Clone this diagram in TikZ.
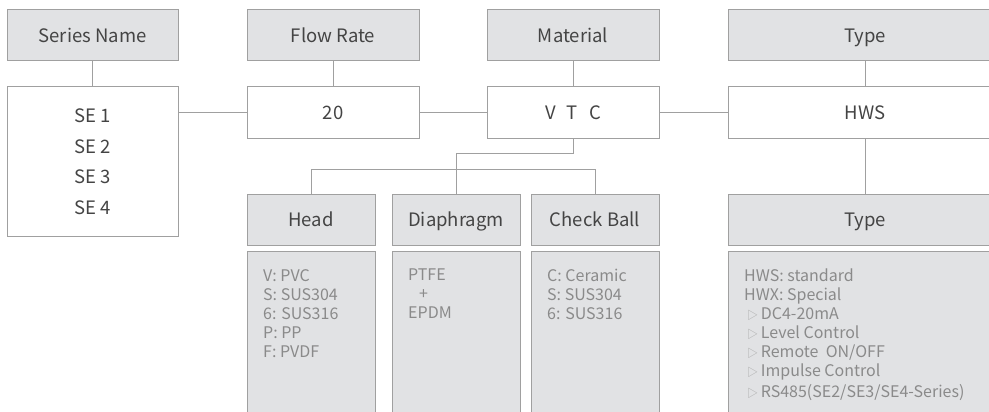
\documentclass[tikz,border=0pt]{standalone}
\usepackage{fontspec}
\setmainfont{Noto Sans CJK SC}
\definecolor{bfill}{HTML}{E1E2E4}
\definecolor{bline}{HTML}{A0A0A0}
\definecolor{htext}{HTML}{444444}
\definecolor{ctext}{HTML}{8A8A8A}
\definecolor{tri}{HTML}{AAAAAA}
\begin{document}
\begin{tikzpicture}[x=1pt,y=-1pt,
  box/.style={draw=bline, line width=1pt, fill=white, text=htext,
    font=\fontsize{18.5}{22}\selectfont, inner sep=0pt, minimum height=51pt,
    text height=13.5pt, text depth=0pt},
  hdr/.style={box, fill=bfill},
  cbox/.style={draw=bline, line width=1pt, fill=bfill, inner sep=0pt},
  ctxt/.style={anchor=north west, inner sep=0pt, align=left, text=ctext,
    font=\fontsize{16}{19}\selectfont},
  link/.style={draw=bline, line width=1pt}]
\clip (0,0) rectangle (989,412);
\fill[white] (0,0) rectangle (989,412);
% top headers
\node[hdr, minimum width=171pt] (sn) at (92.5,35.5) {Series Name};
\node[hdr, minimum width=172pt] (fr) at (333,35.5) {Flow Rate};
\node[hdr, minimum width=172pt] (mat) at (573,35.5) {Material};
\node[hdr, minimum width=274pt] (ty) at (865,35.5) {Type};
% value boxes
\node[box, minimum width=171pt, minimum height=149pt, align=center,
  text height=, text depth=,
  font=\fontsize{18.5}{30.5}\selectfont] (se) at (92.5,161.5) {SE 1\\SE 2\\SE 3\\SE 4};
\node[box, minimum width=172pt] (v20) at (333,112.5) {20};
\node[box, minimum width=172pt] (vtc) at (573,112.5) {V\hspace{0.6em}T\hspace{0.6em}C};
\node[box, minimum width=274pt] (hws) at (865,112.5) {HWS};
% second-level headers
\node[hdr, minimum width=128pt] (head) at (311,219.5) {Head};
\node[hdr, minimum width=128pt] (dia) at (456,219.5) {Diaphragm};
\node[hdr, minimum width=128pt] (cb) at (595,219.5) {Check Ball};
\node[hdr, minimum width=274pt] (ty2) at (865,219.5) {Type};
% content boxes
\node[cbox, minimum width=128pt, minimum height=179pt] (hc) at (311,340.5) {};
\node[cbox, minimum width=128pt, minimum height=179pt] (dc) at (456,340.5) {};
\node[cbox, minimum width=128pt, minimum height=179pt] (cc) at (595,340.5) {};
\node[cbox, minimum width=274pt, minimum height=179pt] (tc) at (865,340.5) {};
% content texts
\node[ctxt] (hct) at (263,269) {V: PVC\\S: SUS304\\6: SUS316\\P: PP\\F: PVDF};
\node[ctxt] (dct) at (408,269) {PTFE\\\hspace{11pt}+\\EPDM};
\node[ctxt] (cct) at (547,269) {C: Ceramic\\S: SUS304\\6: SUS316};
\node[ctxt] (tct) at (744,269) {HWS: standard\\HWX: Special\\
  \hspace{3pt}{\color{tri}\fontsize{11}{19}\selectfont▷}\,DC4-20mA\\
  \hspace{3pt}{\color{tri}\fontsize{11}{19}\selectfont▷}\,Level Control\\
  \hspace{3pt}{\color{tri}\fontsize{11}{19}\selectfont▷}\,Remote\ \ ON/OFF\\
  \hspace{3pt}{\color{tri}\fontsize{11}{19}\selectfont▷}\,Impulse Control\\[2pt]
  \hspace{3pt}{\color{tri}\fontsize{11}{19}\selectfont▷}\,RS485(SE2/SE3/SE4-Series)};
% connectors
\coordinate (j1) at (0,153);
\coordinate (j2) at (0,169);
\draw[link] (sn) -- (se);
\draw[link] (fr) -- (v20);
\draw[link] (mat) -- (vtc);
\draw[link] (ty) -- (hws);
\draw[link] (hws) -- (ty2);
\draw[link] (se.east |- v20.west) -- (v20.west);
\draw[link] (v20) -- (vtc);
\draw[link] (vtc) -- (hws);
\draw[link] (vtc.south) -- (vtc.south |- j1) -| (dia.north);
\draw[link] (head.north) |- (cb.north |- j2) -- (cb.north);
\end{tikzpicture}
\end{document}
